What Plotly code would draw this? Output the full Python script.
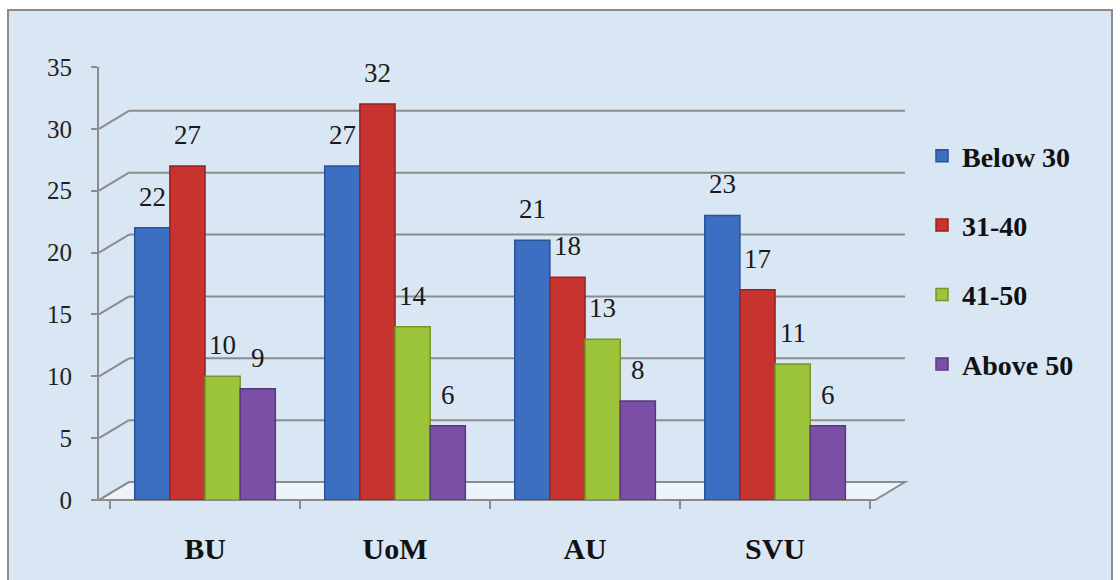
import plotly.graph_objects as go

categories = ["BU", "UoM", "AU", "SVU"]
series_names = ["Below 30", "31-40", "41-50", "Above 50"]
below_30 = [22, 27, 21, 23]
age_31_40 = [27, 32, 18, 17]
age_41_50 = [10, 14, 13, 11]
above_50 = [9, 6, 8, 6]
y_ticks = [0, 5, 10, 15, 20, 25, 30, 35]

colors = ["#3C6FC2", "#C7332E", "#9CC43A", "#7A4FA5"]
edge = ["#2A5296", "#962420", "#76962A", "#5A3880"]

SERIF = "Liberation Serif, Times New Roman, serif"

W, H = 1120, 580
L, R, T, B = 99, 245, 67, 80
pw = W - L - R
ph = H - T - B
BARGAP = 0.26

def px_x(px):
    return (px - L) / pw

def px_y(py):
    return (H - B - py) / ph

all_series = [below_30, age_31_40, age_41_50, above_50]
fig = go.Figure()
annotations = []
bar_w = (1 - BARGAP) / len(all_series)
for i, (name, vals, c, e) in enumerate(zip(series_names, all_series, colors, edge)):
    fig.add_trace(go.Bar(
        x=categories, y=vals, name=name, legendgroup=name,
        marker=dict(color=c, line=dict(color=e, width=1.5)),
        cliponaxis=False,
    ))
    for j, v in enumerate(vals):
        annotations.append(dict(
            x=j + (i - (len(all_series) - 1) / 2) * bar_w, y=v, xref="x", yref="y",
            text=str(v), showarrow=False, yanchor="bottom", yshift=14,
            font=dict(family=SERIF, size=27, color="#1a1a1a"),
        ))

depth_x = 30 / pw
shapes = []
shapes.append(dict(type="rect", xref="paper", yref="paper",
                   x0=px_x(8), x1=px_x(1112), y0=px_y(10), y1=px_y(585),
                   fillcolor="#D9E6F4", line=dict(color="#8C8C8C", width=2), layer="below"))
shapes.append(dict(type="path", xref="paper", yref="paper",
                   path=f"M {px_x(99)},{px_y(500)} L {px_x(129)},{px_y(482)} L {px_x(905)},{px_y(482)} L {px_x(875)},{px_y(500)} Z",
                   fillcolor="rgba(238,244,251,0.9)", line=dict(color="#8C8C8C", width=2), layer="below"))
for v in y_ticks:
    shapes.append(dict(type="line", xref="paper", yref="y", ysizemode="pixel", yanchor=v,
                       x0=depth_x, x1=px_x(905), y0=18, y1=18,
                       line=dict(color="#8C8C8C", width=2), layer="below"))
    shapes.append(dict(type="line", xref="paper", yref="y", ysizemode="pixel", yanchor=v,
                       x0=0, x1=depth_x, y0=0, y1=18,
                       line=dict(color="#8C8C8C", width=2), layer="below"))

fig.update_layout(
    width=W, height=H,
    margin=dict(l=L, r=R, t=T, b=B),
    paper_bgcolor="white", plot_bgcolor="rgba(0,0,0,0)",
    barmode="group", bargap=BARGAP, bargroupgap=0.0,
    shapes=shapes, annotations=annotations,
    showlegend=True,
    legend=dict(x=1.0 + (922 - 875) / pw, xanchor="left", y=px_y(131), yanchor="top",
                font=dict(family=SERIF, size=28, color="#111111", weight="bold"),
                tracegroupgap=30, itemwidth=30, bgcolor="rgba(0,0,0,0)",
                traceorder="grouped"),
    font=dict(family=SERIF),
)
fig.update_xaxes(
    range=[-0.558, 3.526], showgrid=False, showline=False,
    ticks="outside", tickson="boundaries", ticklen=8, tickcolor="#8C8C8C", tickwidth=2,
    tickfont=dict(family=SERIF, size=30, color="#111111", weight="bold"),
    ticklabelstandoff=28, fixedrange=True,
)
fig.update_yaxes(
    range=[0, 35], tickvals=y_ticks, showgrid=False, zeroline=False,
    showline=True, linecolor="#8C8C8C", linewidth=2,
    ticks="outside", ticklen=6, tickcolor="#8C8C8C", tickwidth=2,
    tickfont=dict(family=SERIF, size=25, color="#222222"),
    ticklabelstandoff=14,
)
fig.write_html("out.html")
